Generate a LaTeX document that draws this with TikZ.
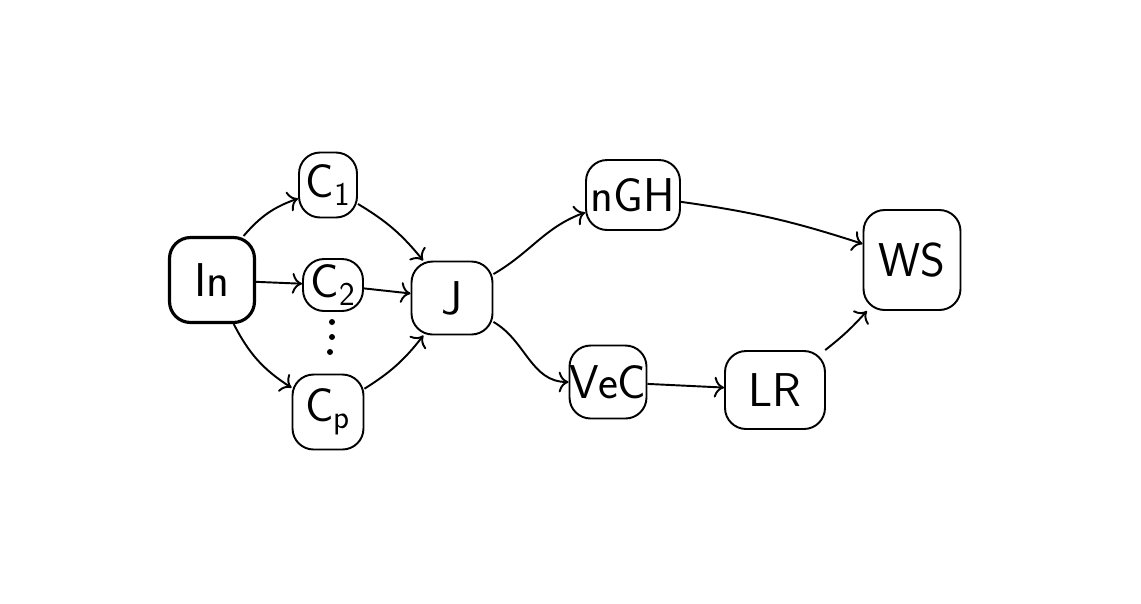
\documentclass[tikz,border=0pt]{standalone}
\usepackage{amsmath}
\usepackage{tikz}
\usetikzlibrary{arrows.meta}

\begin{document}
\begin{tikzpicture}[x=0.02cm, y=-0.02cm, line width=1.1pt, >={To[scale=1.4]},
    box/.style={draw, rounded corners=12pt, inner sep=0pt,
      font=\fontsize{27}{29}\selectfont\sffamily}]

      \useasboundingbox (0, 0) rectangle (1141, 603);

      \node[box, line width=1.8pt, minimum width=1.7cm, minimum height=1.7cm] (in) at (212, 280) {In};
      \node[box, minimum width=1.16cm, minimum height=1.3cm] (c1) at (328, 185) {C$_{\textsf{1}}$};
      \node[box, minimum width=1.2cm, minimum height=1.04cm] (c2) at (333, 285) {C$_{\textsf{2}}$};
      \node[box, minimum width=1.42cm, minimum height=1.5cm] (cp) at (328, 412) {C$_{\textsf{p}}$};
      \node[box, minimum width=1.62cm, minimum height=1.46cm] (j) at (452, 298) {J};
      \node[box, minimum width=1.88cm, minimum height=1.4cm] (ngh) at (633, 195) {nGH};
      \node[box, minimum width=1.54cm, minimum height=1.46cm] (vec) at (608, 382) {VeC};
      \node[box, minimum width=2cm, minimum height=1.56cm] (lr) at (775, 390) {LR};
      \node[box, minimum width=1.94cm, minimum height=2cm] (ws) at (912, 260) {WS};

      \fill (332, 322) circle (3);
      \fill (332, 337) circle (3);
      \fill (330, 352) circle (3);

      \path[->]
      (in) edge[bend left=15] (c1)
      (in) edge (c2)
      (in) edge[bend right=15] (cp)

      (c1) edge[bend left=10] (j)
      (c2) edge (j)
      (cp) edge[bend right=10] (j)

      (j) edge[out=30, in=200] (ngh)
      (j) edge[out=-30, in=180] (vec)

      (ngh) edge[bend left=5] (ws)
      (vec) edge (lr)
      (lr) edge[bend right=5] (ws);
    \end{tikzpicture}
\end{document}
